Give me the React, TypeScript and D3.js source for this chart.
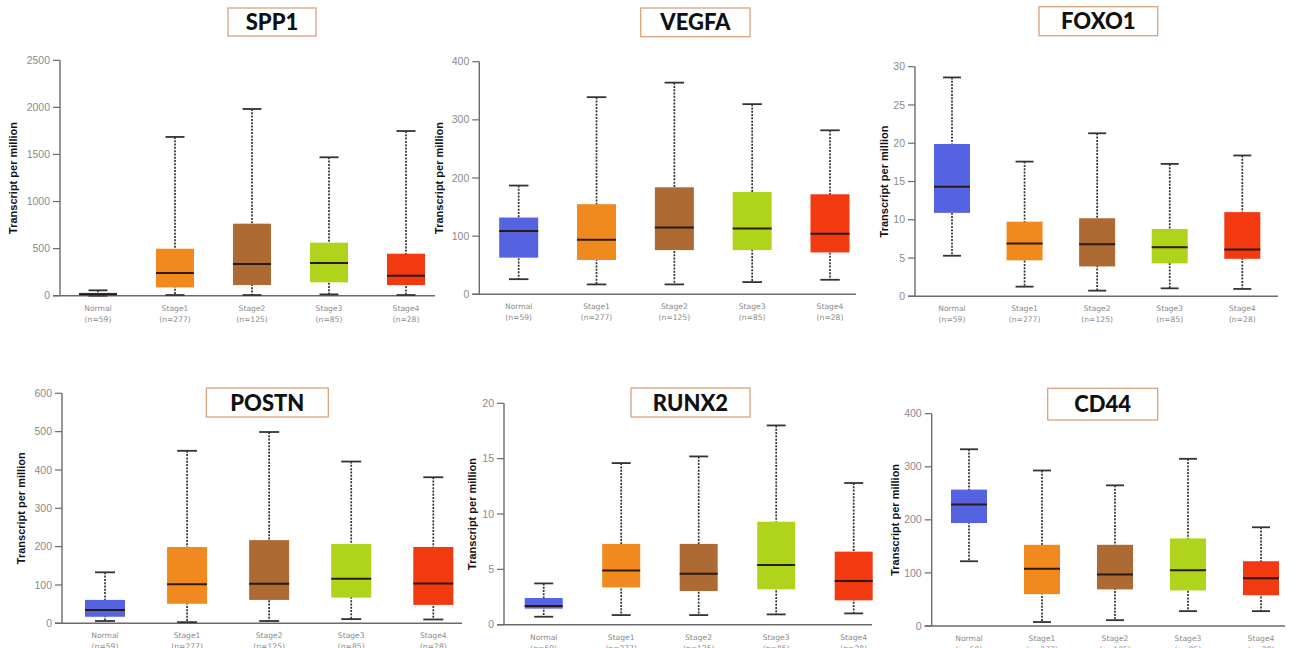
import React from 'react';
import * as d3 from 'd3';

// groups shared by every panel
const categories = ['Normal', 'Stage1', 'Stage2', 'Stage3', 'Stage4'];
const sampleSizes = [59, 277, 125, 85, 28];
const groupColors = ['#5563e0', '#f08a1e', '#ad6a33', '#afd41b', '#f2390f'];

const genes = ['SPP1', 'VEGFA', 'FOXO1', 'POSTN', 'RUNX2', 'CD44'];
const axisMax = [2500, 400, 30, 600, 20, 400];
const axisStep = [500, 100, 5, 100, 5, 100];

// [min, q1, median, q3, max] per group
const spp1Stats = [
    [0, 3, 15, 30, 57],
    [7, 88, 241, 499, 1686],
    [7, 113, 336, 765, 1983],
    [14, 142, 347, 563, 1470],
    [7, 113, 212, 446, 1749],
];
const vegfaStats = [
    [26, 63, 109, 132, 187],
    [17, 59, 94, 155, 339],
    [17, 76, 115, 184, 364],
    [21, 76, 113, 176, 327],
    [25, 72, 104, 172, 282],
];
const foxo1Stats = [
    [5.3, 10.9, 14.3, 19.9, 28.6],
    [1.26, 4.7, 6.9, 9.75, 17.6],
    [0.74, 3.9, 6.8, 10.2, 21.3],
    [1.04, 4.3, 6.4, 8.8, 17.3],
    [0.96, 4.9, 6.1, 11.0, 18.4],
];
const postnStats = [
    [6, 17, 35, 61, 133],
    [3, 51, 102, 199, 450],
    [6, 61, 103, 217, 499],
    [11, 67, 116, 207, 422],
    [10, 48, 104, 199, 381],
];
const runx2Stats = [
    [0.72, 1.45, 1.69, 2.41, 3.73],
    [0.87, 3.37, 4.9, 7.3, 14.6],
    [0.87, 3.04, 4.6, 7.3, 15.2],
    [0.93, 3.2, 5.4, 9.3, 18.0],
    [1.02, 2.2, 3.95, 6.6, 12.8],
];
const cd44Stats = [
    [122, 194, 229, 257, 333],
    [7.5, 60, 108, 153, 293],
    [11, 69, 97, 153, 265],
    [28, 67, 105, 165, 315],
    [28, 58, 90, 122, 186],
];
const geneStats = [spp1Stats, vegfaStats, foxo1Stats, postnStats, runx2Stats, cd44Stats];

// layout of each panel on the page (pixels)
const layouts = [
    {axisX: 60, y0: 295.7, yTop: 60.3, c0: 98, c4: 406, boxW: 38, xEnd: 435, tb: [228, 8, 88, 28], labX: 13},
    {axisX: 479.3, y0: 294.3, yTop: 61.7, c0: 518.7, c4: 830, boxW: 39, xEnd: 856, tb: [640.7, 8, 109.3, 28.7], labX: 439},
    {axisX: 915, y0: 296.3, yTop: 66.7, c0: 952, c4: 1242.3, boxW: 36, xEnd: 1278, tb: [1039, 6.7, 118.7, 29], labX: 884},
    {axisX: 62, y0: 623.3, yTop: 393.3, c0: 105, c4: 433.3, boxW: 40, xEnd: 462, tb: [206.3, 388, 122, 29], labX: 20.7},
    {axisX: 504, y0: 624.7, yTop: 403.3, c0: 543.7, c4: 853.7, boxW: 38, xEnd: 872, tb: [631, 388, 119, 29], labX: 471.7},
    {axisX: 931.7, y0: 626, yTop: 413.7, c0: 969, c4: 1261, boxW: 36, xEnd: 1285, tb: [1047.7, 388.3, 110, 31.7], labX: 895},
];

const Panel: React.FC<{ index: number }> = ({index}) => {
    const L = layouts[index];
    const stats = geneStats[index];
    const max = axisMax[index];
    const y = d3.scaleLinear().domain([0, max]).range([L.y0, L.yTop]);
    const x = d3.scalePoint<string>().domain(categories).range([L.c0, L.c4]);
    const ticks = d3.range(0, max + axisStep[index] / 2, axisStep[index]);
    const [tx, ty, tw, th] = L.tb;
    const midY = (L.y0 + L.yTop) / 2;

    return (
        <g>
            {/* title box */}
            <rect x={tx} y={ty} width={tw} height={th} fill="#fff" stroke="#dca27a" strokeWidth={1.3}/>
            <text x={tx + tw / 2} y={ty + th / 2 + 8} textAnchor="middle"
                  style={{fontFamily: 'Lato, "Open Sans", sans-serif', fontWeight: 900, fontSize: 22, fill: '#111'}}>
                {genes[index]}
            </text>

            {/* y label */}
            <text transform={`translate(${L.labX + 4},${midY}) rotate(-90)`} textAnchor="middle"
                  style={{fontFamily: '"Liberation Sans", Arial, sans-serif', fontWeight: 700, fontSize: 11, fill: '#111'}}>
                Transcript per million
            </text>

            {/* axes */}
            <line x1={L.axisX} x2={L.axisX} y1={L.yTop} y2={L.y0} stroke="#6b6b6b" strokeWidth={1.4}/>
            <line x1={L.axisX - 7} x2={L.xEnd} y1={L.y0} y2={L.y0} stroke="#6b6b6b" strokeWidth={1.4}/>
            {ticks.map(t => (
                <g key={t}>
                    <line x1={L.axisX - 7} x2={L.axisX} y1={y(t)} y2={y(t)} stroke="#6b6b6b" strokeWidth={1.2}/>
                    <text x={L.axisX - 10} y={y(t) + 3.6} textAnchor="end"
                          style={{fontFamily: '"Liberation Sans", Arial, sans-serif', fontSize: 10.5, fill: '#8a8a8a'}}>
                        {t}
                    </text>
                </g>
            ))}

            {/* boxes */}
            {categories.map((c, i) => {
                const [lo, q1, med, q3, hi] = stats[i];
                const cx = x(c)!;
                const w = L.boxW;
                return (
                    <g key={c}>
                        <line x1={cx} x2={cx} y1={y(hi)} y2={y(lo)} stroke="#333" strokeWidth={1.7}
                              strokeDasharray="2,1.3"/>
                        <line x1={cx - w / 4} x2={cx + w / 4} y1={y(hi)} y2={y(hi)} stroke="#333" strokeWidth={1.8}/>
                        <line x1={cx - w / 4} x2={cx + w / 4} y1={y(lo)} y2={y(lo)} stroke="#333" strokeWidth={1.8}/>
                        <rect x={cx - w / 2} y={y(q3)} width={w} height={y(q1) - y(q3)} fill={groupColors[i]}/>
                        <line x1={cx - w / 2} x2={cx + w / 2} y1={y(med)} y2={y(med)} stroke="#2a1a10" strokeWidth={2}/>
                        <text x={cx} y={L.y0 + 15} textAnchor="middle"
                              style={{fontFamily: '"DejaVu Sans", sans-serif', fontSize: 7.6, fill: '#8a8a8a'}}>
                            {c}
                        </text>
                        <text x={cx} y={L.y0 + 26} textAnchor="middle"
                              style={{fontFamily: '"DejaVu Sans", sans-serif', fontSize: 7.6, fill: '#8a8a8a'}}>
                            {`(n=${sampleSizes[i]})`}
                        </text>
                    </g>
                );
            })}
        </g>
    );
};

export default function App() {
    return (
        <svg width={1293} height={648} viewBox="0 0 1293 648"
             style={{position: 'absolute', left: 0, top: 0, background: '#fff'}}>
            <rect width={1293} height={648} fill="#fff"/>
            {genes.map((g, i) => <Panel key={g} index={i}/>)}
        </svg>
    );
}
